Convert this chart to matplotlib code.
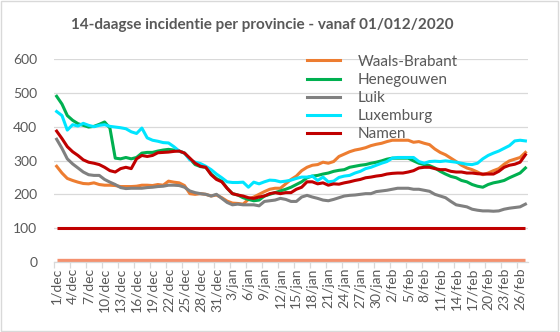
import matplotlib
matplotlib.use("Agg")
import matplotlib.pyplot as plt
from matplotlib.patches import Rectangle
import datetime as dt

plt.rcParams['font.family'] = ['Lato', 'DejaVu Sans']

# dagen vanaf 1 december 2020
start = dt.date(2020, 12, 1)
n_days = 89
maanden = {12: "dec", 1: "jan", 2: "feb"}
dagen = [start + dt.timedelta(days=i) for i in range(n_days)]
labels = [f"{d.day}/{maanden[d.month]}" for d in dagen]

waals_brabant = [283, 263, 247, 241, 236, 232, 231, 234, 229, 227, 227, 226, 223, 223, 223, 224, 227, 227,
                 226, 229, 227, 239, 236, 234, 226, 202, 200, 202, 200, 195, 198, 190, 180, 174, 173, 171,
                 185, 192, 200, 208, 215, 218, 218, 231, 244, 254, 270, 280, 286, 288, 295, 292, 297, 312,
                 319, 326, 331, 334, 338, 344, 348, 351, 356, 360, 360, 360, 360, 354, 356, 351, 347, 334,
                 324, 317, 307, 297, 286, 278, 273, 266, 258, 263, 270, 276, 289, 299, 304, 309, 324]
henegouwen = [490, 467, 433, 419, 409, 404, 399, 401, 407, 414, 396, 307, 305, 309, 305, 309, 322, 324,
              324, 328, 331, 333, 331, 328, 322, 305, 288, 282, 280, 260, 247, 239, 218, 202, 198, 190,
              185, 181, 183, 195, 200, 205, 210, 215, 221, 229, 237, 249, 254, 256, 260, 263, 268, 271,
              273, 280, 283, 286, 288, 292, 295, 299, 304, 307, 307, 307, 307, 299, 292, 288, 285, 278,
              268, 260, 253, 249, 241, 237, 229, 224, 221, 229, 234, 237, 241, 249, 256, 263, 278]
luik = [363, 336, 305, 290, 278, 266, 258, 256, 256, 244, 236, 229, 220, 217, 218, 218, 218, 220,
        221, 223, 224, 227, 227, 226, 221, 210, 205, 202, 200, 195, 200, 188, 176, 169, 171, 169,
        169, 169, 166, 179, 181, 183, 188, 185, 179, 179, 192, 197, 192, 188, 183, 181, 185, 190,
        195, 197, 198, 200, 202, 202, 208, 210, 212, 215, 218, 218, 218, 215, 215, 212, 209, 200,
        195, 190, 179, 169, 166, 163, 156, 153, 151, 151, 150, 151, 156, 159, 161, 163, 171]
luxemburg = [445, 433, 390, 406, 402, 410, 404, 400, 404, 406, 401, 399, 397, 394, 385, 380, 396, 367,
             360, 357, 353, 352, 341, 328, 322, 302, 295, 291, 283, 273, 260, 249, 237, 235, 235, 236,
             221, 236, 231, 237, 242, 241, 237, 239, 242, 247, 251, 251, 254, 241, 251, 237, 239, 250,
             254, 256, 263, 268, 276, 280, 286, 292, 297, 307, 309, 309, 309, 309, 297, 292, 297, 298,
             297, 299, 297, 295, 292, 289, 288, 292, 305, 315, 322, 328, 336, 344, 358, 360, 358]
namen = [387, 365, 341, 326, 315, 302, 295, 292, 288, 280, 270, 266, 276, 280, 276, 305, 315, 312,
         315, 323, 324, 325, 327, 328, 322, 307, 292, 283, 280, 258, 244, 237, 218, 202, 198, 195,
         190, 188, 192, 195, 202, 205, 202, 205, 205, 215, 221, 237, 237, 231, 234, 227, 231, 230,
         234, 237, 241, 244, 249, 251, 254, 256, 260, 262, 263, 263, 266, 270, 278, 280, 280, 276,
         273, 273, 268, 266, 266, 263, 263, 261, 260, 260, 260, 268, 280, 286, 289, 295, 317]
grens = [100] * n_days
nul = [5] * n_days

reeksen = [("Waals-Brabant", waals_brabant, "#ED7D31"),
           ("Henegouwen", henegouwen, "#00B050"),
           ("Luik", luik, "#808080"),
           ("Luxemburg", luxemburg, "#00E5FF"),
           ("Namen", namen, "#C00000")]

tekst = "#595959"
x = list(range(n_days))

fig = plt.figure(figsize=(5.6, 3.32), dpi=100)
ax = fig.add_axes([0.0964, 0.211, 0.8466, 0.611])

ax.plot(x, nul, color="#F4916F", lw=2.4, solid_capstyle="butt")
ax.plot(x, grens, color="#C00000", lw=2.2, solid_capstyle="butt")
for naam, waarden, kleur in reeksen:
    ax.plot(x, waarden, color=kleur, lw=2.2, label=naam)

ax.set_xlim(-0.5, n_days - 0.5)
ax.set_ylim(0, 600)
ax.set_yticks(range(0, 601, 100))
ax.yaxis.grid(True, color="#D9D9D9", lw=0.9)
ax.set_axisbelow(True)

ax.set_xticks(x[::3])
ax.set_xticklabels(labels[::3], rotation=90, fontsize=10, color=tekst)
ax.set_xticks([i - 0.5 for i in x[::3]], minor=True)
ax.tick_params(axis="x", which="major", length=0, pad=4)
ax.tick_params(axis="x", which="minor", length=4, color="#D9D9D9", width=0.9)
ax.tick_params(axis="y", length=0, pad=12, labelsize=10, labelcolor=tekst)

for s in ["top", "right", "left"]:
    ax.spines[s].set_visible(False)
ax.spines["bottom"].set_color("#D9D9D9")
ax.spines["bottom"].set_linewidth(0.9)

fig.text(0.468, 0.925, "14-daagse incidentie per provincie - vanaf 01/012/2020",
         ha="center", va="center", fontsize=11, fontweight="bold", color=tekst)

ax.legend(loc="upper left", bbox_to_anchor=(0.548, 0.835), bbox_transform=fig.transFigure,
          frameon=False, fontsize=11, labelcolor=tekst, handlelength=2.2, handletextpad=1.1,
          labelspacing=0.27, borderpad=0, borderaxespad=0)

fig.patches.append(Rectangle((0.002, 0.003), 0.995, 0.994, transform=fig.transFigure,
                             fill=False, edgecolor="#D9D9D9", lw=1))

fig.savefig("out.png", dpi=100)
